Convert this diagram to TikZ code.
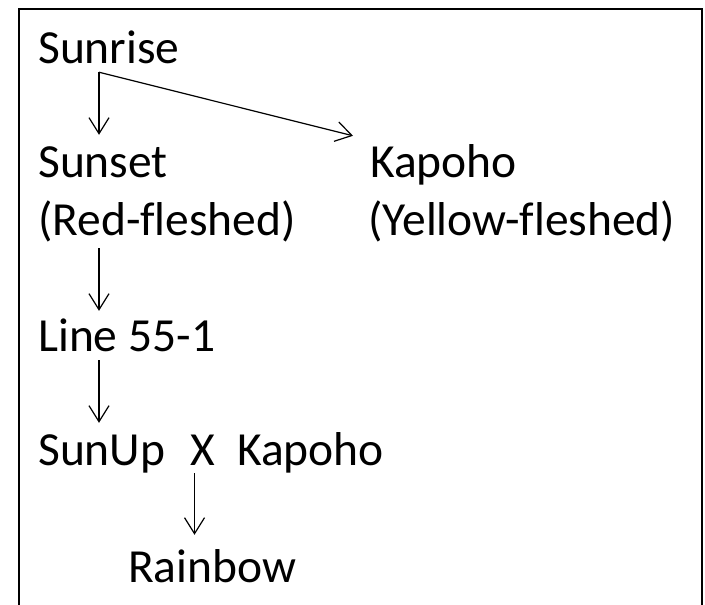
\documentclass[tikz,border=0pt]{standalone}
\usepackage{fontspec}
\setmainfont{Carlito}[Ligatures={NoCommon}]
\usetikzlibrary{arrows.meta,calc}
\begin{document}
\begin{tikzpicture}[x=1pt,y=-1pt,
  lbl/.style={anchor=base west,inner sep=0pt,text height=40pt,text depth=10pt,
    font=\fontsize{47.5pt}{57pt}\selectfont},
  conn/.style={line width=1.2pt,-{Straight Barb[length=16pt,width=20pt,line width=1.2pt]}},
  frame/.style={line width=2pt}]
\useasboundingbox (0,0) rectangle (705,605);
\draw[frame] (18.5,606) -- (18.5,8.5) -- (701.5,8.5) -- (701.5,606);
\node[lbl] (sunrise) at (38,63) {Sunrise};
\node[lbl] (sunset) at (38,177) {Sunset};
\node[lbl] (red) at (38,235) {(Red-fleshed)};
\node[lbl] (kapoho) at (370,177) {Kapoho};
\node[lbl] (yellow) at (368,235) {(Yellow-fleshed)};
\node[lbl] (line) at (38,351) {Line 55-1};
\node[lbl] (sunup) at (38,465) {SunUp};
\node[lbl] (xnode) at (190,465) {X};
\node[lbl] (kap2) at (237,465) {Kapoho};
\node[lbl] (rainbow) at (128,582) {Rainbow};
\coordinate (fork) at ([xshift=61pt,yshift=1pt]sunrise.south west);
\coordinate (xfoot) at ([xshift=-8pt,yshift=2pt]xnode.south);
\draw[conn] (fork) -- ([yshift=2pt]fork |- sunset.north);
\draw[conn] (fork) -- ([xshift=-17pt,yshift=1pt]kapoho.north west);
\draw[conn] ([yshift=-3pt]fork |- red.south) -- (fork |- line.north);
\draw[conn] ([yshift=1pt]fork |- line.south) -- ([yshift=2pt]fork |- sunup.north);
\draw[conn] (xfoot) -- ([yshift=7pt]xfoot |- rainbow.north);
\end{tikzpicture}
\end{document}
